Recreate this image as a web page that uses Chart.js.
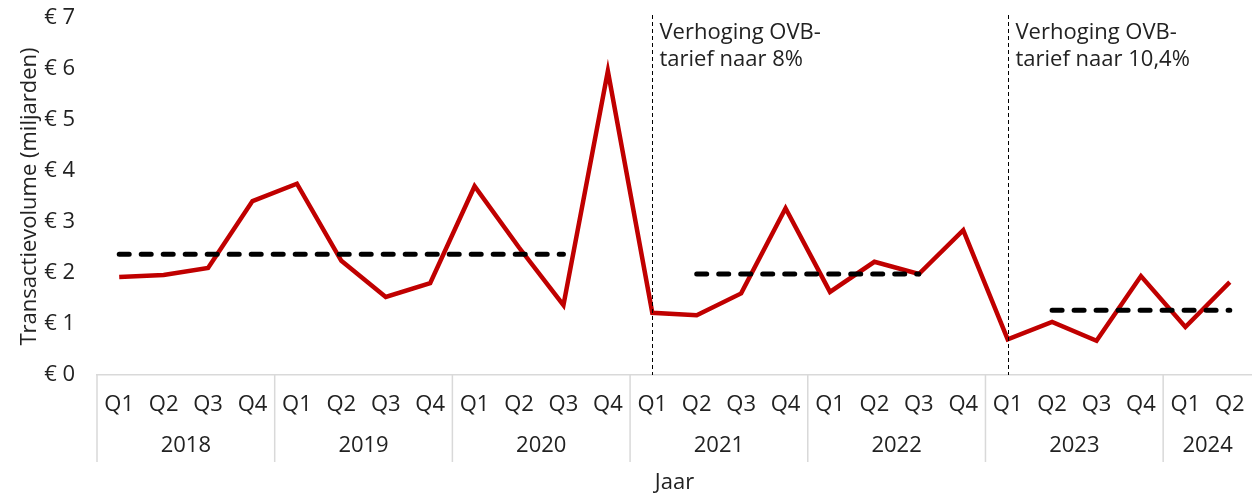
<!DOCTYPE html>
<html>
<head>
<meta charset="utf-8">
<script src="https://cdn.jsdelivr.net/npm/chart.js@4"></script>
<style>
  html, body { margin: 0; padding: 0; background: #fff; }
</style>
</head>
<body>
<canvas id="c" width="1252" height="496"></canvas>
<script>
// ---- data ----
var quarters = ['Q1','Q2','Q3','Q4','Q1','Q2','Q3','Q4','Q1','Q2','Q3','Q4',
                'Q1','Q2','Q3','Q4','Q1','Q2','Q3','Q4','Q1','Q2','Q3','Q4','Q1','Q2'];
var years = ['2018', '2019', '2020', '2021', '2022', '2023', '2024'];
var quartersPerYear = [4, 4, 4, 4, 4, 4, 2];

// transaction volume per quarter, EUR bn
var volume = [1.92, 1.96, 2.10, 3.41, 3.75, 2.24, 1.53, 1.80,
              3.70, 2.50, 1.37, 5.96, 1.22, 1.17, 1.60, 3.27,
              1.63, 2.22, 1.98, 2.84, 0.70, 1.04, 0.67, 1.94,
              0.94, 1.82];

// period averages (dashed lines): value + first/last quarter index
var avgValues = [2.37, 1.98, 1.27];
var avgFrom   = [0, 13, 21];
var avgTo     = [10, 18, 25];

// tax-rate changes (vertical markers)
var eventIndex = [12, 20];
var eventLabels = [['Verhoging OVB-', 'tarief naar 8%'], ['Verhoging OVB-', 'tarief naar 10,4%']];

var yTicks = [0, 1, 2, 3, 4, 5, 6, 7];

// ---- build ----
var FONT = '"Open Sans", Lato, sans-serif';
var FS = 22;
var TXT = '#222';

var datasets = [{
  data: volume,
  borderColor: '#c00000',
  borderWidth: 4.5,
  pointRadius: 0,
  tension: 0,
  borderJoinStyle: 'miter',
  order: 2
}];
avgValues.forEach(function (v, i) {
  var arr = volume.map(function (_, j) { return (j >= avgFrom[i] && j <= avgTo[i]) ? v : null; });
  datasets.push({
    data: arr,
    borderColor: '#000',
    borderWidth: 5,
    borderDash: [10, 12],
    borderCapStyle: 'round',
    pointRadius: 0,
    spanGaps: false,
    order: 1
  });
});

var overlay = {
  id: 'overlay',
  afterDatasetsDraw: function (chart) {
    var ctx = chart.ctx, x = chart.scales.x, area = chart.chartArea;
    ctx.save();
    // event markers
    eventIndex.forEach(function (idx, i) {
      var px = Math.round(x.getPixelForValue(idx)) + 0.5;
      ctx.strokeStyle = '#000';
      ctx.lineWidth = 1;
      ctx.setLineDash([4, 3]);
      ctx.beginPath();
      ctx.moveTo(px, 15);
      ctx.lineTo(px, area.bottom);
      ctx.stroke();
      ctx.setLineDash([]);
      ctx.fillStyle = TXT;
      ctx.font = FS + 'px ' + FONT;
      ctx.textAlign = 'left';
      ctx.textBaseline = 'alphabetic';
      eventLabels[i].forEach(function (line, k) {
        ctx.fillText(line, px + 7, 39 + k * 27);
      });
    });
    ctx.restore();
  },
  afterDraw: function (chart) {
    var ctx = chart.ctx, x = chart.scales.x, area = chart.chartArea;
    var half = (x.getPixelForValue(1) - x.getPixelForValue(0)) / 2;
    ctx.save();
    ctx.strokeStyle = '#d9d9d9';
    ctx.lineWidth = 1.5;
    ctx.fillStyle = TXT;
    ctx.font = FS + 'px ' + FONT;
    ctx.textAlign = 'center';
    ctx.textBaseline = 'middle';
    var start = 0;
    years.forEach(function (yr, i) {
      var end = start + quartersPerYear[i] - 1;
      var left = x.getPixelForValue(start) - half;
      var right = x.getPixelForValue(end) + half;
      ctx.beginPath();
      ctx.moveTo(left, area.bottom);
      ctx.lineTo(left, 462);
      ctx.stroke();
      ctx.fillText(yr, (left + right) / 2, 446);
      start = end + 1;
    });
    ctx.restore();
  }
};

new Chart(document.getElementById('c'), {
  type: 'line',
  data: { labels: quarters, datasets: datasets },
  options: {
    responsive: false,
    animation: false,
    devicePixelRatio: 1,
    layout: { padding: { top: 18, right: 0, bottom: 0, left: 0 } },
    plugins: { legend: { display: false }, tooltip: { enabled: false } },
    scales: {
      x: {
        type: 'category',
        offset: true,
        grid: { display: false, drawTicks: false },
        border: { display: true, color: '#d9d9d9', width: 1.5 },
        ticks: { font: { family: FONT, size: FS }, color: TXT, padding: 17, maxRotation: 0, autoSkip: false },
        title: { display: true, text: 'Jaar', font: { family: FONT, size: FS }, color: TXT, padding: { top: 0, bottom: 0 } },
        afterFit: function (s) { s.height = 121; s.paddingLeft = 0; s.paddingRight = 0; }
      },
      y: {
        min: 0,
        max: 7,
        afterBuildTicks: function (s) { s.ticks = yTicks.map(function (v) { return { value: v }; }); },
        grid: { display: false, drawTicks: false },
        border: { display: false },
        ticks: {
          font: { family: FONT, size: FS }, color: TXT, padding: 22,
          callback: function (v) { return '\u20ac ' + v; }
        },
        title: { display: true, text: 'Transactievolume (miljarden)', font: { family: FONT, size: FS }, color: TXT, padding: { top: 17, bottom: 0 } },
        afterFit: function (s) { s.width = 97; s.paddingTop = 0; s.paddingBottom = 0; }
      }
    }
  },
  plugins: [overlay]
});
</script>
</body>
</html>
